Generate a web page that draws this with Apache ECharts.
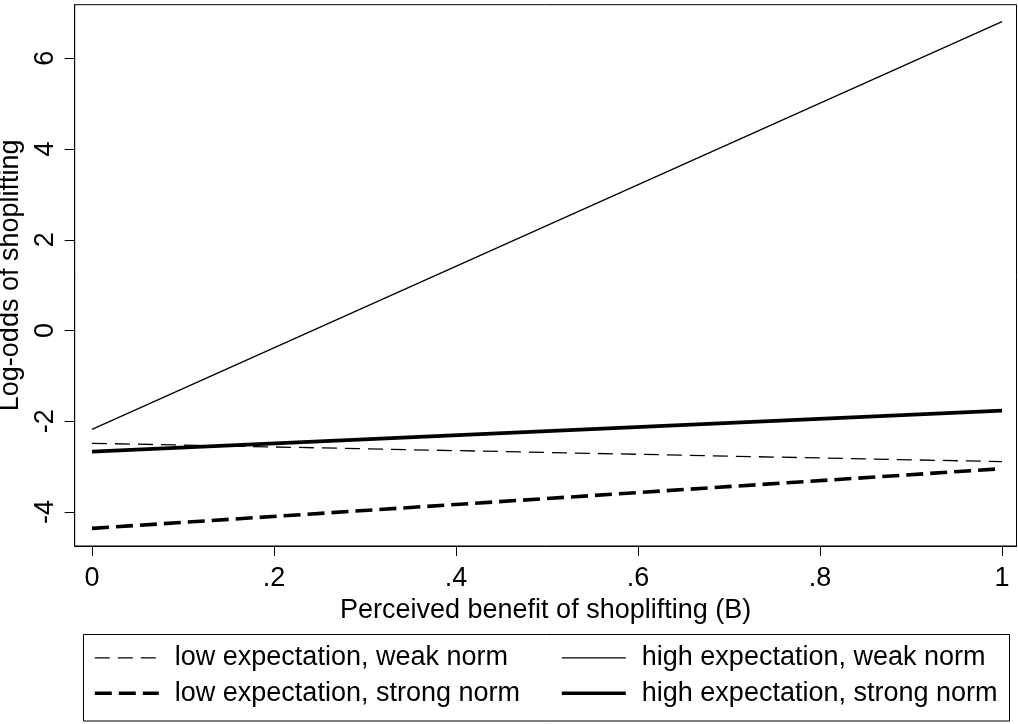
<!DOCTYPE html>
<html><head><meta charset="utf-8">
<script src="https://cdn.jsdelivr.net/npm/echarts@6/dist/echarts.min.js"></script>
<style>html,body{margin:0;padding:0;background:#fff}#c{width:1018px;height:724px}</style>
</head><body><div id="c"></div>
<script>
const benefit = [0, 1];
const lowWeak = [-2.485, -2.89];
const highWeak = [-2.18, 6.81];
const lowStrong = [-4.36, -3.045];
const highStrong = [-2.67, -1.766];
const xTicks = [0, 0.2, 0.4, 0.6, 0.8, 1];
const yTicks = [-4, -2, 0, 2, 4, 6];
const names = ['low expectation, weak norm', 'high expectation, weak norm',
               'low expectation, strong norm', 'high expectation, strong norm'];
const xTitle = 'Perceived benefit of shoplifting (B)';
const yTitle = 'Log-odds of shoplifting';

const FONT = '"Liberation Sans", Arial, Helvetica, sans-serif';
const pairs = (ys) => benefit.map((x, i) => [x, ys[i]]);
const fmtX = (v) => {
  if (v === 0) return '0';
  if (v === 1) return '1';
  return String(+v.toFixed(1)).replace(/^0/, '');
};
const THIN = 1.3, THICK = 3.6;
const DASH_THIN = [15, 8], DASH_THICK = [17, 7];

const chart = echarts.init(document.getElementById('c'), null, {renderer: 'canvas'});
const legendBase = {
  orient: 'vertical', itemWidth: 64, itemHeight: 14, itemGap: 5.4, padding: 0,
  selectedMode: false,
  textStyle: {fontSize: 27, lineHeight: 30, color: '#000', fontFamily: FONT, padding: [0, 0, 0, 11]},
  itemStyle: {opacity: 0}
};
const legItem = (name, width, type) => ({name: name, lineStyle: {color: '#000', width: width, type: type}});
chart.setOption({
  animation: false,
  backgroundColor: '#fff',
  textStyle: {fontFamily: FONT, color: '#000'},
  grid: {left: 74.7, right: 1.5, top: 4.7, bottom: 178, show: true, borderColor: '#000', borderWidth: 1,
         backgroundColor: '#fff', containLabel: false, outerBoundsMode: 'none'},
  xAxis: {
    type: 'value', min: -0.019, max: 1.0159,
    splitLine: {show: false},
    axisLine: {show: true, onZero: false, lineStyle: {color: '#000', width: 1}},
    axisTick: {show: true, length: 10, customValues: xTicks, lineStyle: {color: '#000', width: 1}},
    axisLabel: {customValues: xTicks, formatter: fmtX, fontSize: 27, margin: 19, color: '#000', fontFamily: FONT},
    name: xTitle, nameLocation: 'middle', nameGap: 45,
    nameTextStyle: {fontSize: 27, color: '#000', fontFamily: FONT}
  },
  yAxis: {
    type: 'value', min: -4.749, max: 7.181,
    splitLine: {show: false},
    axisLine: {show: true, onZero: false, lineStyle: {color: '#000', width: 1}},
    axisTick: {show: true, length: 10, customValues: yTicks, lineStyle: {color: '#000', width: 1}},
    axisLabel: {customValues: yTicks, rotate: 90, fontSize: 27, margin: 16, color: '#000', fontFamily: FONT},
    name: yTitle, nameLocation: 'middle', nameGap: 50, nameRotate: 90,
    nameTextStyle: {fontSize: 27, color: '#000', fontFamily: FONT}
  },
  legend: [
    Object.assign({}, legendBase, {data: [legItem(names[0], THIN, DASH_THIN), legItem(names[2], THICK, DASH_THICK)], left: 93, top: 642.8}),
    Object.assign({}, legendBase, {data: [legItem(names[1], THIN, 'solid'), legItem(names[3], THICK, 'solid')], left: 560, top: 642.8})
  ],
  graphic: [{
    type: 'rect', shape: {x: 83.5, y: 634.5, width: 926, height: 86.5},
    style: {fill: 'none', stroke: '#000', lineWidth: 1}, silent: true
  }],
  series: [
    {name: names[0], type: 'line', data: pairs(lowWeak), symbol: 'none', color: '#000',
     lineStyle: {color: '#000', width: THIN, type: DASH_THIN}},
    {name: names[1], type: 'line', data: pairs(highWeak), symbol: 'none', color: '#000',
     lineStyle: {color: '#000', width: THIN, type: 'solid'}},
    {name: names[2], type: 'line', data: pairs(lowStrong), symbol: 'none', color: '#000',
     lineStyle: {color: '#000', width: THICK, type: DASH_THICK}},
    {name: names[3], type: 'line', data: pairs(highStrong), symbol: 'none', color: '#000',
     lineStyle: {color: '#000', width: THICK, type: 'solid'}}
  ]
});
</script></body></html>
